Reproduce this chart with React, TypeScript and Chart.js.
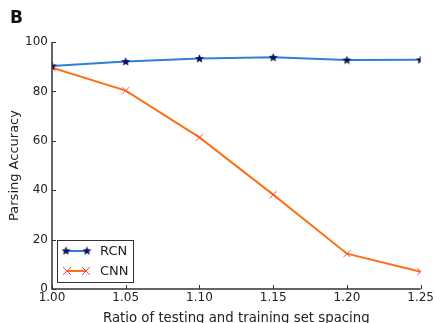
import React, { useEffect, useRef } from "react";
import { Chart, registerables } from "chart.js";
Chart.register(...registerables);

const ratios = [1.0, 1.05, 1.1, 1.15, 1.2, 1.25];
const rcnAcc = [90.3, 92.1, 93.3, 93.8, 92.7, 92.8];
const cnnAcc = [89.6, 80.3, 61.4, 38.2, 14.3, 7.0];
const seriesLabels = ["RCN", "CNN"];
const yTicks = [0, 20, 40, 60, 80, 100];
const xTitle = "Ratio of testing and training set spacing";
const yTitle = "Parsing Accuracy";
const panelLabel = "B";

const FONT = "'DejaVu Sans', sans-serif";
const TEXT = "#222";

function makeStar(): HTMLCanvasElement {
  const c = document.createElement("canvas");
  c.width = 9;
  c.height = 9;
  const g = c.getContext("2d")!;
  g.beginPath();
  for (let i = 0; i < 10; i++) {
    const r = i % 2 === 0 ? 4 : 1.7;
    const a = -Math.PI / 2 + (i * Math.PI) / 5;
    const x = 4.5 + r * Math.cos(a);
    const y = 4.8 + r * Math.sin(a);
    if (i === 0) g.moveTo(x, y);
    else g.lineTo(x, y);
  }
  g.closePath();
  g.fillStyle = "#0a0a8c";
  g.fill();
  g.strokeStyle = "#000";
  g.lineWidth = 0.6;
  g.stroke();
  return c;
}

export default function App() {
  const ref = useRef<HTMLCanvasElement>(null);
  useEffect(() => {
    document.body.style.margin = "0";
    const star = makeStar();
    const drawCross = (g: CanvasRenderingContext2D, x: number, y: number) => {
      g.save();
      g.strokeStyle = "#ff4848";
      g.lineWidth = 1;
      g.beginPath();
      g.moveTo(x - 4, y - 4);
      g.lineTo(x + 4, y + 4);
      g.moveTo(x - 4, y + 4);
      g.lineTo(x + 4, y - 4);
      g.stroke();
      g.restore();
    };
    const custom = {
      id: "custom",
      afterDraw(chart: any) {
        const g: CanvasRenderingContext2D = chart.ctx;
        const xs = chart.scales.x;
        const ys = chart.scales.y;
        const { left, right, top, bottom } = chart.chartArea;
        g.save();
        g.strokeStyle = "#333";
        g.lineWidth = 1.5;
        g.beginPath();
        g.moveTo(left, top);
        g.lineTo(left, bottom);
        g.lineTo(right, bottom);
        g.stroke();
        g.lineWidth = 1;
        g.beginPath();
        for (const t of ys.ticks) {
          const y = Math.round(ys.getPixelForValue(t.value)) + 0.5;
          g.moveTo(left, y);
          g.lineTo(left + 4, y);
        }
        for (const t of xs.ticks) {
          const x = Math.round(xs.getPixelForValue(t.value)) + 0.5;
          g.moveTo(x, bottom);
          g.lineTo(x, bottom - 4);
        }
        g.stroke();
        g.fillStyle = "#111";
        g.font = `bold 17px ${FONT}`;
        g.textBaseline = "alphabetic";
        g.textAlign = "left";
        g.fillText(panelLabel, 10, 23);
        const bx = 57.5, by = 240.5, bw = 76, bh = 42;
        g.fillStyle = "#fff";
        g.fillRect(bx, by, bw, bh);
        g.strokeStyle = "#333";
        g.lineWidth = 1;
        g.strokeRect(bx, by, bw, bh);
        const ds = chart.data.datasets;
        const rows = [251, 271];
        rows.forEach((ry, i) => {
          g.strokeStyle = ds[i].borderColor;
          g.lineWidth = 2;
          g.beginPath();
          g.moveTo(66, ry);
          g.lineTo(87, ry);
          g.stroke();
          if (i === 0) {
            g.drawImage(star, 66 - 4.5, ry - 4.8);
            g.drawImage(star, 87 - 4.5, ry - 4.8);
          } else {
            drawCross(g, 67, ry);
            drawCross(g, 86, ry);
          }
          g.fillStyle = TEXT;
          g.font = `13px ${FONT}`;
          g.textBaseline = "middle";
          g.fillText(ds[i].label, 100, ry + 1);
        });
        g.restore();
      },
    };
    const chart = new Chart(ref.current!, {
      type: "line",
      data: {
        datasets: [
          {
            label: seriesLabels[0],
            data: ratios.map((x, i) => ({ x, y: rcnAcc[i] })),
            borderColor: "#2f80d2",
            borderWidth: 2,
            pointStyle: star as any,
            pointRadius: 4,
            tension: 0,
          },
          {
            label: seriesLabels[1],
            data: ratios.map((x, i) => ({ x, y: cnnAcc[i] })),
            borderColor: "#ff6f14",
            borderWidth: 2,
            pointStyle: "crossRot",
            pointRadius: 5,
            pointBorderColor: "#ff4848",
            pointBorderWidth: 1,
            tension: 0,
          },
        ],
      },
      options: {
        animation: false,
        responsive: false,
        layout: { padding: { top: 42, right: 13, left: 0, bottom: 0 } },
        plugins: { legend: { display: false }, tooltip: { enabled: false } },
        scales: {
          x: {
            type: "linear",
            min: 1.0,
            max: 1.25,
            border: { display: false },
            grid: { display: false, drawTicks: false },
            ticks: {
              stepSize: 0.05,
              padding: 2,
              color: TEXT,
              font: { family: FONT, size: 12 },
              callback: (v: any) => Number(v).toFixed(2),
            },
            title: {
              display: true,
              text: xTitle,
              color: TEXT,
              font: { family: FONT, size: 13.3 },
              padding: { top: 3, bottom: -4 },
            },
            afterFit: (s: any) => {
              s.height = 34;
            },
          },
          y: {
            min: 0,
            max: 100,
            border: { display: false },
            grid: { display: false, drawTicks: false },
            afterBuildTicks: (s: any) => {
              s.ticks = yTicks.map((v) => ({ value: v }));
            },
            ticks: {
              padding: 4,
              color: TEXT,
              font: { family: FONT, size: 12 },
            },
            title: {
              display: true,
              text: yTitle,
              color: TEXT,
              font: { family: FONT, size: 13 },
              padding: { top: 7, bottom: 2 },
            },
            afterFit: (s: any) => {
              s.width = 52;
            },
          },
        },
      },
      plugins: [custom],
    });
    return () => chart.destroy();
  }, []);
  return <canvas ref={ref} width={436} height={323} />;
}
